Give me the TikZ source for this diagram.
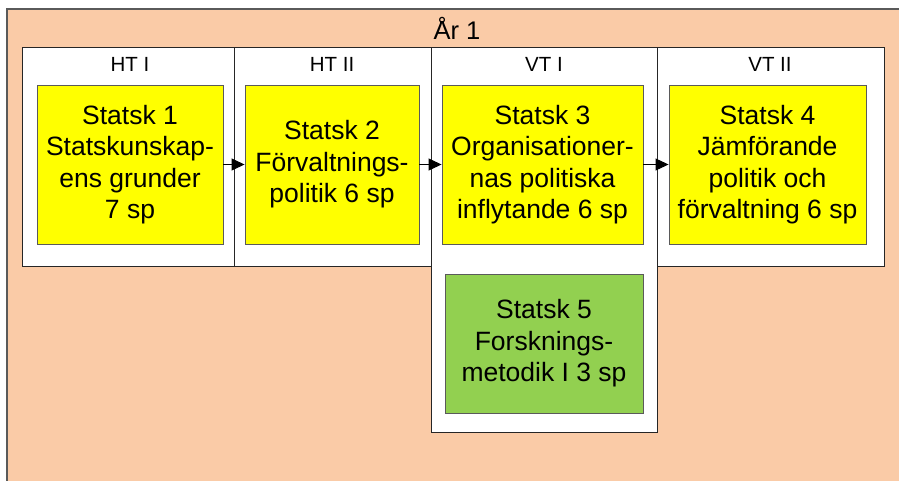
\documentclass[tikz,border=0pt]{standalone}
\usepackage{fontspec}
\setmainfont{Liberation Sans}
\usetikzlibrary{arrows.meta}
\definecolor{peach}{HTML}{FACBA7}
\definecolor{ylw}{HTML}{FFFF00}
\definecolor{grn}{HTML}{92D050}
\definecolor{edge}{HTML}{5A5A5A}
\tikzset{
  colbox/.style={draw=black!85, fill=white, line width=0.9pt},
  course/.style={draw=edge, line width=0.9pt, align=center, inner sep=0pt,
    font=\fontsize{26.5}{31.5}\selectfont},
  collabel/.style={font=\fontsize{20.5}{23}\selectfont, inner sep=0pt},
  flow/.style={line width=1pt, -{Triangle[length=13pt,width=12pt]}}
}
\begin{document}
\begin{tikzpicture}[x=1pt,y=-1pt]
\useasboundingbox (0,0) rectangle (899,480);
\fill[white] (0,0) rectangle (899,480);
\path[fill=peach, draw=edge, line width=1.6pt] (7,9) rectangle (910,495);
\node[font=\fontsize{25.5}{28}\selectfont, inner sep=0pt] (title) at (457,28) {År 1};
% columns
\path[colbox] (22,47) rectangle (234,266);
\path[colbox] (234,47) rectangle (431,266);
\path[colbox] (431,47) rectangle (657,432);
\path[colbox] (657,47) rectangle (884,266);
\node[collabel] (l1) at (130,64) {HT I};
\node[collabel] (l2) at (332,64) {HT II};
\node[collabel] (l3) at (544,64) {VT I};
\node[collabel] (l4) at (770,64) {VT II};
% courses
\node[course, fill=ylw, minimum width=186pt, minimum height=159pt] (s1) at (130,164.5)
  {Statsk 1\\Statskunskap-\\ens grunder\\7 sp};
\node[course, fill=ylw, minimum width=174pt, minimum height=159pt] (s2) at (332,164.5)
  {Statsk 2\\Förvaltnings-\\politik 6 sp};
\node[course, fill=ylw, minimum width=201pt, minimum height=159pt] (s3) at (542.5,164.5)
  {Statsk 3\\Organisationer-\\nas politiska\\inflytande 6 sp};
\node[course, fill=ylw, minimum width=197pt, minimum height=159pt] (s4) at (767.5,164.5)
  {Statsk 4\\Jämförande\\politik och\\förvaltning 6 sp};
\node[course, fill=grn, minimum width=198pt, minimum height=139pt] (s5) at (544,343.5)
  {Statsk 5\\Forsknings-\\metodik I 3 sp};
% arrows
\draw[flow] (s1.east) -- (s2.west);
\draw[flow] (s2.east) -- (s3.west);
\draw[flow] (s3.east) -- (s4.west);
\end{tikzpicture}
\end{document}
